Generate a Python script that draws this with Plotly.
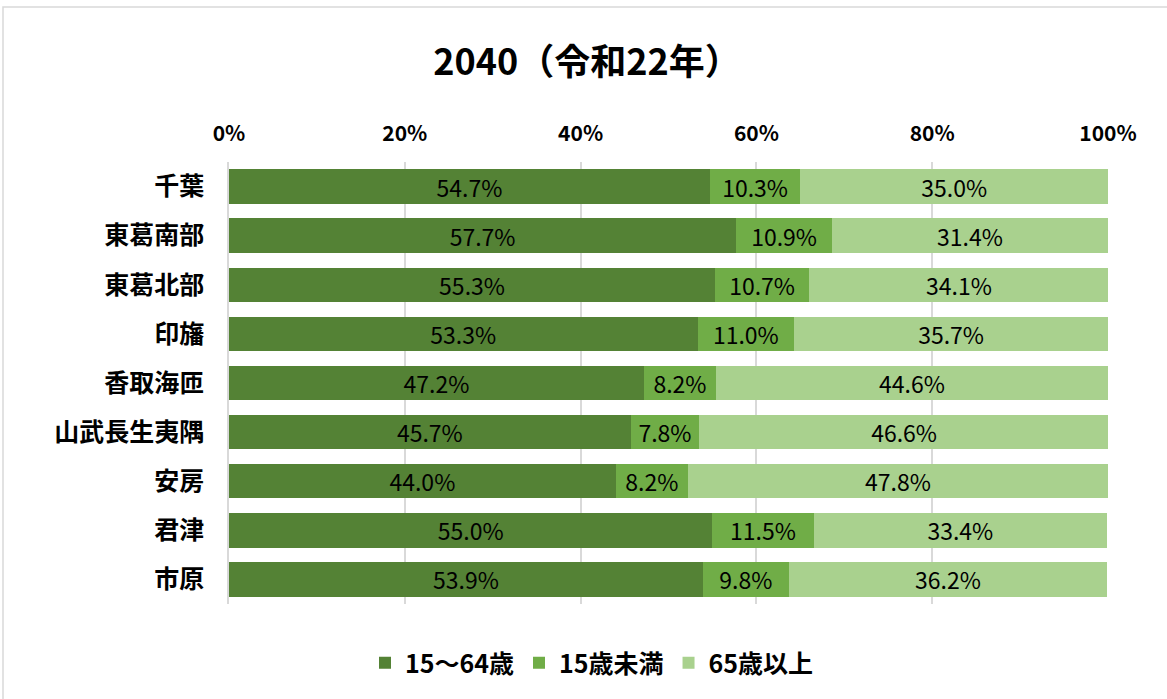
import plotly.graph_objects as go

regions = ["千葉", "東葛南部", "東葛北部", "印旛", "香取海匝", "山武長生夷隅", "安房", "君津", "市原"]
working_age = [54.7, 57.7, 55.3, 53.3, 47.2, 45.7, 44.0, 55.0, 53.9]
under15 = [10.3, 10.9, 10.7, 11.0, 8.2, 7.8, 8.2, 11.5, 9.8]
over65 = [35.0, 31.4, 34.1, 35.7, 44.6, 46.6, 47.8, 33.4, 36.2]
series_names = ["15～64歳", "15歳未満", "65歳以上"]
colors = ["#548235", "#70AD47", "#A9D18E"]
tick_vals = [0, 20, 40, 60, 80, 100]
tick_text = ["0%", "20%", "40%", "60%", "80%", "100%"]

FONT = "Noto Sans CJK JP"

fig = go.Figure()
for name, vals, col in zip(series_names, [working_age, under15, over65], colors):
    fig.add_trace(go.Bar(
        y=regions, x=vals, name=name, orientation="h",
        marker=dict(color=col, line=dict(width=0)),
        text=[f"{v:.1f}%" for v in vals],
        textposition="inside", insidetextanchor="middle", textangle=0,
        textfont=dict(family=FONT, size=23, color="black"),
        constraintext="none",
    ))

W, H = 1167, 699
ml, mr, mt, mb = 229, 59, 162, 95
pw, ph = W - ml - mr, H - mt - mb

fig.update_layout(
    width=W, height=H,
    barmode="stack", bargap=0.3,
    plot_bgcolor="white", paper_bgcolor="white",
    margin=dict(l=ml, r=mr, t=mt, b=mb),
    title=dict(text="2040（令和22年）", x=587 / W, xref="container", xanchor="center",
               y=1 - 62 / H, yanchor="middle",
               font=dict(family=FONT, size=36, color="black", weight="bold")),
    font=dict(family=FONT, color="black"),
    xaxis=dict(range=[0, 100], side="top", tickvals=tick_vals, ticktext=tick_text,
               showgrid=True, gridcolor="#D9D9D9", gridwidth=1.5, zeroline=False,
               tickfont=dict(family=FONT, size=21, color="black", weight="bold"),
               ticks="", showline=False, fixedrange=True, ticklabelstandoff=16),
    yaxis=dict(autorange="reversed", showgrid=False, ticks="",
               showline=True, linecolor="#D9D9D9", linewidth=1.5,
               tickfont=dict(family=FONT, size=25, color="black", weight="bold"),
               ticklabelstandoff=18, fixedrange=True),
    legend=dict(orientation="h", x=592 / W, xanchor="center", xref="container",
                y=(H - 663) / H, yref="container", yanchor="middle",
                font=dict(family=FONT, size=25, color="black", weight="bold"),
                itemwidth=30, traceorder="normal"),
    shapes=[dict(type="rect", xref="paper", yref="paper",
                 x0=(3 - ml) / pw, x1=(1175 - ml) / pw,
                 y0=(H - mb - 710) / ph, y1=1 + (mt - 7) / ph,
                 line=dict(color="#D9D9D9", width=1.5), layer="below")],
)

fig.write_html("out.html", config={"displayModeBar": False},
               post_script="document.body.style.margin='0';document.body.style.overflow='hidden';")
